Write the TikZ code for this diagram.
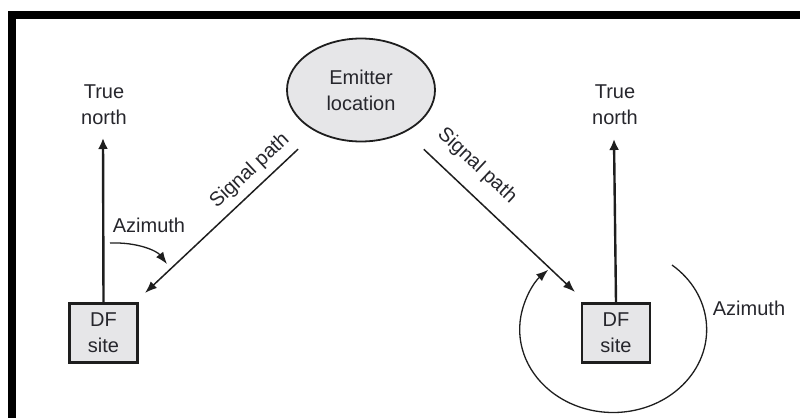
\documentclass[tikz,border=0pt]{standalone}
\usepackage{fontspec}
\setmainfont{Liberation Sans}
\usetikzlibrary{arrows.meta,shapes.geometric}
\definecolor{ink}{HTML}{1E1E1E}
\definecolor{txt}{HTML}{26262C}
\definecolor{boxfill}{HTML}{E6E6E8}
\begin{document}
\begin{tikzpicture}[x=1pt,y=-1pt,
  lbl/.style={text=txt,font=\fontsize{20}{26}\selectfont,align=center,inner sep=0pt},
  sitebox/.style={draw=ink,line width=2.6pt,fill=boxfill,minimum width=68pt,minimum height=59pt,
    inner sep=0pt,text=txt,font=\fontsize{20}{26}\selectfont,align=center},
  emitterbox/.style={ellipse,draw=ink,line width=1.8pt,fill=boxfill,minimum width=148pt,
    minimum height=103pt,inner sep=0pt,text=txt,font=\fontsize{20}{26}\selectfont,align=center},
  northarrow/.style={draw=ink,line width=2.4pt,-{Latex[length=11pt,width=10pt]}},
  sigarrow/.style={draw=ink,line width=1.5pt,-{Latex[length=12pt,width=9pt]}},
  azarrow/.style={draw=ink,line width=1.3pt,-{Latex[length=12pt,width=9pt]}}
]
\useasboundingbox (0,0) rectangle (800,418);
% frame bars along the top and left edges
\fill[black] (8,11) rectangle (800,19);
\fill[black] (8,11) rectangle (16,418);

% emitter
\node[emitterbox] (emitter) at (361,90) {Emitter\\location};

% left direction-finding site
\node[sitebox] (dfL) at (103.5,333) {DF\\site};
\node[lbl] (northL) at (104,105) {True\\north};
\coordinate (nL) at (103,138);
\draw[northarrow] (dfL.north) -- (nL);
\coordinate (tipL) at (145,293);
\draw[sigarrow,shorten <=25pt] (emitter) -- (tipL);
\node[lbl,rotate=43] (sigL) at (250,171) {Signal path};
\node[lbl] (azL) at (149,225) {Azimuth};
\coordinate (azL1) at (110,243);
\coordinate (azL2) at (167,264);
\draw[azarrow] (azL1) .. controls (138,242) and (157,251) .. (azL2);

% right direction-finding site
\node[sitebox] (dfR) at (616,333) {DF\\site};
\node[lbl] (northR) at (615,105) {True\\north};
\coordinate (nR) at (614,139);
\draw[northarrow] (dfR.north) -- (nR);
\coordinate (tipR) at (575,292);
\draw[sigarrow,shorten <=25pt] (emitter) -- (tipR);
\node[lbl,rotate=-43] (sigR) at (477,166) {Signal path};
\node[lbl] (azR) at (749,308) {Azimuth};
% azimuth sweep, clockwise on the page (y axis points down here)
\coordinate (azR1) at (672,265);
\draw[azarrow] (azR1) arc[start angle=-51,end angle=226,x radius=93.5,y radius=83];
\end{tikzpicture}
\end{document}
